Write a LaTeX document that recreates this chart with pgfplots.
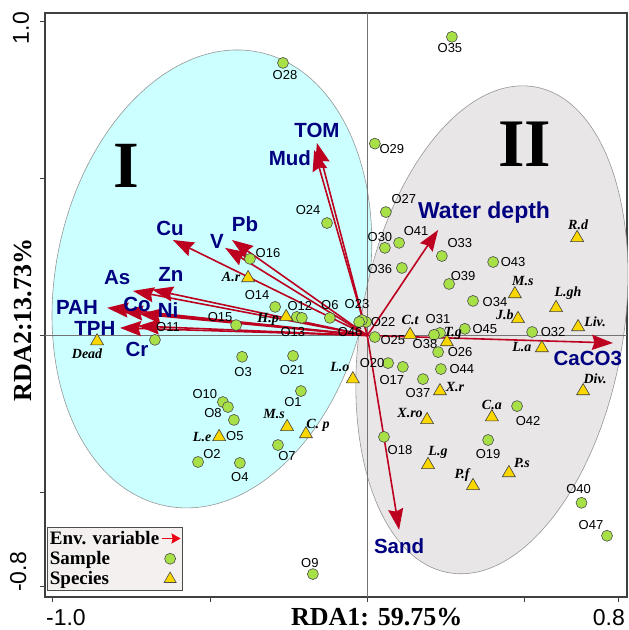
\documentclass[border=0pt]{standalone}
\usepackage{fontspec}
\setmainfont{Liberation Sans}
\newfontfamily\tnr{Liberation Serif}
\usepackage{pgfplots}
\pgfplotsset{compat=1.18}
\usepackage{pgfplotstable}
\usetikzlibrary{arrows.meta}

\definecolor{cyanfill}{RGB}{204,255,255}
\definecolor{grayfill}{RGB}{232,230,230}
\definecolor{ellline}{RGB}{150,150,150}
\definecolor{sampgreen}{RGB}{168,224,72}
\definecolor{specyellow}{RGB}{250,215,0}
\definecolor{envred}{RGB}{190,0,32}
\definecolor{navy}{RGB}{0,0,128}
\definecolor{legbg}{RGB}{244,240,240}
\definecolor{legred}{RGB}{235,0,20}

\newcommand\samplefont{\fontsize{13}{13}\selectfont}
\newcommand\specfont{\tnr\bfseries\itshape\fontsize{14}{14}\selectfont}
\newcommand\envfont{\bfseries\fontsize{20.5}{20.5}\selectfont}
\newcommand\tickfont{\fontsize{23}{23}\selectfont}
\newcommand\labfont{\tnr\bfseries\fontsize{26}{26}\selectfont}

% environmental variables: arrow tips (u,v) from the origin
\pgfplotstableread{
x y u v name
0 0 -0.160 0.613 TOM
0 0 -0.169 0.591 Mud
0 0 -0.618 0.304 Cu
0 0 -0.452 0.279 V
0 0 -0.430 0.304 Pb
0 0 -0.745 0.142 As
0 0 -0.684 0.146 Zn
0 0 -0.827 0.088 PAH
0 0 -0.780 0.078 Co
0 0 -0.723 0.068 Ni
0 0 -0.786 0.024 TPH
0 0 -0.729 0.030 Cr
0 0 0.225 0.336 Water
0 0 0.781 -0.024 CaCO3
0 0 0.101 -0.619 Sand
}\envtable

% sample scores, with label offsets in pt
\pgfplotstableread{
x y dx dy name
-0.268 0.868 2 -12 O28
0.269 0.951 -2 -11 O35
0.024 0.611 17 -5 O29
0.059 0.393 18 13 O27
-0.128 0.358 -19 13 O24
0.101 0.295 17 12 O41
0.056 0.279 -5 11 O30
0.237 0.253 18 13 O33
0.400 0.234 20 0 O43
0.110 0.215 -22 -1 O36
0.260 0.164 14 8 O39
0.336 0.110 22 -1 O34
0.524 0.011 21 0 O32
0.310 0.021 20 0 O45
0.231 0.008 -2 14 O31
0.212 0.002 -9 -9 O38
0.225 -0.053 22 0 O26
0.024 -0.005 18 -3 O25
-0.004 0.043 17 0 O22
-0.017 0.049 -5 16 O23
-0.026 0.043 -9 -10 O46
-0.119 0.056 0 13 O6
0.066 -0.088 -16 0 O20
0.113 -0.100 -11 -13 O17
0.234 -0.107 21 0 O44
0.177 -0.139 -5 -14 O37
0.476 -0.225 11 -15 O42
0.053 -0.323 16 -13 O18
0.384 -0.333 0 -14 O19
0.681 -0.533 -3 14 O40
0.762 -0.638 -16 11 O47
-0.373 0.244 18 6 O16
-0.293 0.091 -18 12 O14
-0.224 0.059 3 11 O12
-0.208 0.056 -9 -14 O13
-0.417 0.033 -16 8 O15
-0.675 -0.014 13 13 O11
-0.398 -0.068 1 -15 O3
-0.236 -0.065 -1 -14 O21
-0.211 -0.177 -8 -11 O1
-0.459 -0.212 -18 8 O10
-0.443 -0.228 -15 -6 O8
-0.424 -0.269 1 -16 O5
-0.284 -0.349 9 -11 O7
-0.538 -0.403 14 8 O2
-0.405 -0.406 0 -14 O4
-0.173 -0.760 -3 11 O9
}\samples

% species scores, with label offsets in pt
\pgfplotstableread{
x y dx dy name
-0.859 -0.018 -10 -13 Dead
-0.379 0.183 -17 1 A.r
-0.258 0.059 -18 -2 H.p
-0.471 -0.323 -17 0 L.e
-0.255 -0.291 -13 13 M.s
-0.195 -0.314 12 9 {C. p}
-0.046 -0.139 -13 12 L.o
0.667 0.311 1 13 R.d
0.469 0.132 8 13 M.s
0.600 0.088 12 15 L.gh
0.479 0.053 -13 4 J.b
0.670 0.027 17 5 Liv.
0.555 -0.040 -20 1 L.a
0.136 0.002 0 15 C.t
0.253 -0.021 6 9 T.g
0.231 -0.177 15 4 X.r
0.686 -0.177 12 12 Div.
0.190 -0.269 -17 7 X.ro
0.396 -0.260 0 12 C.a
0.193 -0.412 10 12 L.g
0.450 -0.438 13 10 P.s
0.336 -0.479 -11 11 P.f
}\species

\begin{document}
\begin{tikzpicture}
\begin{axis}[
  scale only axis, width=582pt, height=584pt,
  xmin=-1.0245, xmax=0.8255, ymin=-0.833, ymax=1.027,
  xtick={-1,-0.5,0,0.5,0.8}, ytick={-0.8,-0.5,0,0.5,1},
  xticklabels={}, yticklabels={},
  tick align=outside, tick pos=left, major tick length=5pt,
  axis line style={black!75, line width=1.2pt},
  tick style={black!75, line width=1pt},
  clip=false,
  legend plot pos=right,
  legend style={at={(rel axis cs:0.0035,0.011)}, anchor=south west,
    fill=legbg, draw=black!70, line width=0.8pt,
    font=\tnr\bfseries\fontsize{19}{19}\selectfont,
    nodes={inner xsep=1.5pt, inner ysep=2.8pt},
    row sep=0pt, inner sep=1pt, cells={anchor=west}},
]
% group ellipses (kept out of the bounding box: their control points overshoot)
\draw[overlay, ellline, fill=cyanfill, line width=0.6pt, rotate around={-11.75:(axis cs:-0.494,0.180)}]
  (axis cs:-0.494,0.180) ellipse [x radius=156pt, y radius=231.6pt];
\draw[overlay, ellline, fill=grayfill, line width=0.6pt, rotate around={-10.1:(axis cs:0.396,0.018)}]
  (axis cs:0.396,0.018) ellipse [x radius=131pt, y radius=246.7pt];
% zero lines
\draw[black!55, line width=0.8pt] (axis cs:0,-0.833) -- (axis cs:0,1.027);
\draw[black!55, line width=0.8pt] (axis cs:-1.0245,0) -- (axis cs:0.8255,0);
% group names
\node[font=\tnr\bfseries\fontsize{66}{66}\selectfont] at (axis cs:-0.767,0.540) {I};
\node[font=\tnr\bfseries\fontsize{68}{68}\selectfont] at (axis cs:0.501,0.610) {II};

% legend entries
\addlegendimage{legend image code/.code={\draw[legred, line width=1.8pt, -{Stealth[length=9pt,width=10pt,inset=1pt]}] (0pt,0pt) -- (19pt,0pt);}}
\addlegendentry{Env. variable}
\addlegendimage{only marks, mark=*, mark size=5.5pt, mark options={fill=sampgreen, draw=black!70, line width=0.6pt}}
\addlegendentry{Sample}
\addlegendimage{only marks, mark=triangle*, mark size=7pt, mark options={fill=specyellow, draw=black!70, line width=0.6pt}}
\addlegendentry{Species}

% environmental variable arrows
\addplot[forget plot, envred, line width=1.6pt,
  -{Stealth[length=21pt,width=15pt,inset=2.5pt]},
  quiver={u=\thisrow{u}, v=\thisrow{v}}] table[x=x,y=y] {\envtable};

% samples
\addplot[forget plot, only marks, mark=*, mark size=5.5pt,
  mark options={fill=sampgreen, draw=black!70, line width=0.6pt},
  nodes near coords, point meta=explicit symbolic,
  visualization depends on={\thisrow{dx}\as\ldx},
  visualization depends on={\thisrow{dy}\as\ldy},
  every node near coord/.append style={anchor=center, xshift=\ldx pt, yshift=\ldy pt,
    font=\samplefont, text=black, inner sep=0pt}]
  table[x=x,y=y,meta=name] {\samples};

% species
\addplot[forget plot, only marks, mark=triangle*, mark size=7.5pt,
  mark options={fill=specyellow, draw=black!75, line width=0.6pt},
  nodes near coords, point meta=explicit symbolic,
  visualization depends on={\thisrow{dx}\as\ldx},
  visualization depends on={\thisrow{dy}\as\ldy},
  every node near coord/.append style={anchor=center, xshift=\ldx pt, yshift=\ldy pt,
    font=\specfont, text=black, inner sep=0pt}]
  table[x=x,y=y,meta=name] {\species};

% variable names
\begin{scope}[every node/.style={font=\envfont, text=navy, inner sep=0pt}]
\node at (axis cs:-0.160,0.654) {TOM};
\node at (axis cs:-0.246,0.565) {Mud};
\node at (axis cs:-0.627,0.342) {Cu};
\node at (axis cs:-0.389,0.355) {Pb};
\node at (axis cs:-0.478,0.298) {V};
\node at (axis cs:-0.795,0.186) {As};
\node at (axis cs:-0.624,0.193) {Zn};
\node at (axis cs:-0.732,0.100) {Co};
\node at (axis cs:-0.633,0.081) {Ni};
\node at (axis cs:-0.923,0.088) {PAH};
\node at (axis cs:-0.866,0.021) {TPH};
\node at (axis cs:-0.732,-0.043) {Cr};
\node[font=\bfseries\fontsize{23}{23}\selectfont] at (axis cs:0.371,0.393) {Water depth};
\node at (axis cs:0.701,-0.072) {CaCO3};
\node at (axis cs:0.101,-0.670) {Sand};
\end{scope}

% tick labels and axis titles
\begin{scope}[every node/.style={inner sep=0pt}]
\node[font=\tickfont] at (axis cs:-0.958,-0.900) {-1.0};
\node[font=\tickfont] at (axis cs:0.768,-0.900) {0.8};
\node[font=\tickfont, rotate=90] at (axis cs:-1.101,0.979) {1.0};
\node[font=\tickfont, rotate=90] at (axis cs:-1.110,-0.753) {-0.8};
\node[font=\labfont] at (axis cs:0.030,-0.896) {RDA1: 59.75\%};
\node[font=\labfont, rotate=90] at (axis cs:-1.095,0.049) {RDA2:13.73\%};
\end{scope}
\end{axis}
\path (current axis.south west) ++(-45pt,-33pt) coordinate (bbsw);
\path (current axis.north east) ++(2pt,13pt) coordinate (bbne);
\path (bbsw) rectangle (bbne);
\end{tikzpicture}
\end{document}
